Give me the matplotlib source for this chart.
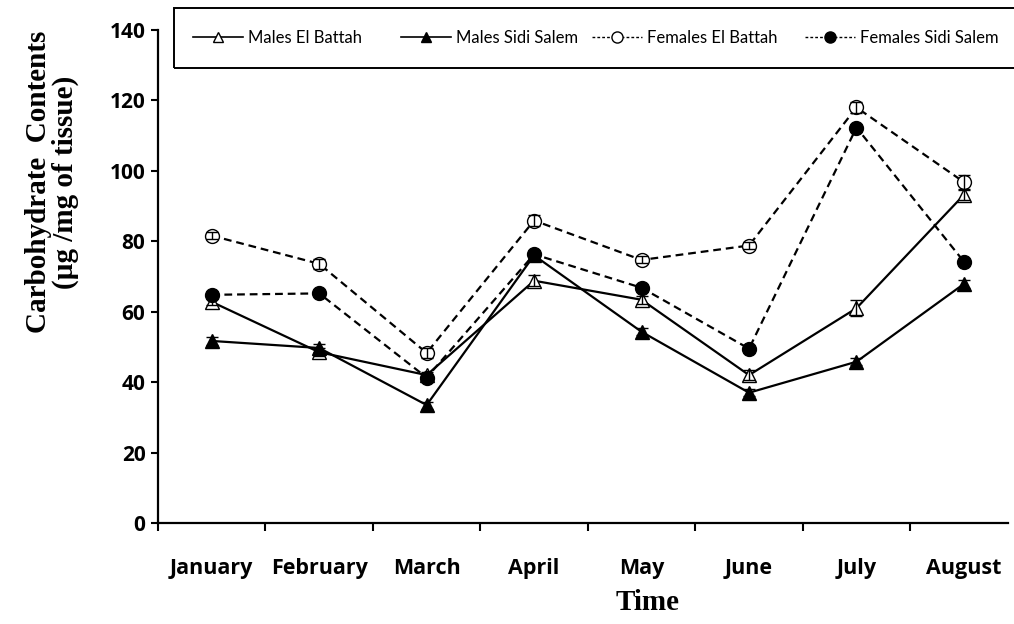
import matplotlib
matplotlib.use("Agg")
import matplotlib.pyplot as plt
import numpy as np

months = ["January", "February", "March", "April", "May", "June", "July", "August"]
males_el_battah = [62.8, 48.5, 42.0, 68.8, 63.4, 42.0, 61.0, 93.2]
males_sidi_salem = [51.7, 49.7, 33.5, 76.0, 54.3, 37.0, 45.8, 67.9]
females_el_battah = [81.6, 73.6, 48.3, 85.9, 74.7, 78.8, 118.0, 96.8]
females_sidi_salem = [64.8, 65.2, 41.3, 76.3, 66.8, 49.5, 112.3, 74.2]
err_meb = [1.0, 1.2, 1.0, 1.5, 1.2, 1.5, 2.2, 1.5]
err_mss = [1.2, 1.0, 1.0, 1.2, 1.0, 1.0, 1.0, 1.2]
err_feb = [1.0, 1.5, 1.5, 1.5, 1.0, 1.0, 1.5, 2.0]
err_fss = [0.8, 0.8, 0.8, 0.8, 0.8, 0.8, 0.8, 0.8]
labels = ["Males El Battah", "Males Sidi Salem", "Females El Battah", "Females Sidi Salem"]

fig = plt.figure(figsize=(10.14, 6.24), dpi=100)
ax = fig.add_axes([158/1014, 1-523/624, (1008-158)/1014, (523-30)/624])

x = np.arange(len(months))
series = [
    (males_el_battah, err_meb, '-', '^', 'white'),
    (males_sidi_salem, err_mss, '-', '^', 'black'),
    (females_el_battah, err_feb, '--', 'o', 'white'),
    (females_sidi_salem, err_fss, '--', 'o', 'black'),
]
handles = []
for (vals, err, ls, mk, fc), lab in zip(series, labels):
    ms = 9.5 if mk == '^' else 10
    line, = ax.plot(x, vals, color='black', ls=ls, lw=1.6, zorder=3,
                    marker=mk, markersize=ms, markerfacecolor=fc,
                    markeredgecolor='black', markeredgewidth=1.0)
    if ls == '--':
        line.set_dashes((3.5, 2.2))
    ax.errorbar(x, vals, yerr=err, fmt='none', ecolor='black',
                capsize=4, elinewidth=1.0, capthick=1.0, zorder=4)
    h, = ax.plot([], [], color='black', ls=ls, lw=1.2 if ls == '-' else 1.0,
                 marker=mk, markersize=7 if mk == '^' else 8,
                 markerfacecolor=fc, markeredgecolor='black', label=lab)
    if ls == '--':
        h.set_dashes((2, 1.5))
    handles.append(h)

ax.set_xlim(-0.5, 7.41)
ax.set_ylim(0, 140)
ax.set_yticks(np.arange(0, 141, 20))
ax.set_xticks(np.arange(-0.5, 7.0, 1.0))
ax.set_xticklabels([])
ax.set_xticks(x, minor=True)
ax.set_xticklabels(months, minor=True)
ax.tick_params(axis='x', which='major', direction='out', length=6, width=1.5)
ax.tick_params(axis='x', which='minor', length=0, pad=25)
ax.tick_params(axis='y', direction='out', length=5, width=1.5, pad=4)
for lab in ax.get_xticklabels(minor=True):
    lab.set_fontfamily('Open Sans')
    lab.set_fontweight('bold')
    lab.set_fontsize(15.5)
for lab in ax.get_yticklabels():
    lab.set_fontfamily('Open Sans')
    lab.set_fontweight('bold')
    lab.set_fontsize(15)
for s in ['top', 'right']:
    ax.spines[s].set_visible(False)
for s in ['left', 'bottom']:
    ax.spines[s].set_linewidth(1.6)

fig.text(52/1014, 1-182/624, "Carbohydrate  Contents\n(µg /mg of tissue)",
         rotation=90, ha='center', va='center', multialignment='center',
         family='Liberation Serif', fontweight='bold', fontsize=21, linespacing=0.95)
fig.text(648/1014, 1-603/624, "Time", ha='center', va='center',
         family='Liberation Serif', fontweight='bold', fontsize=21)

# legend box
rect = plt.Rectangle((174/1014, 1-68/624), 1.0, 60/624, transform=fig.transFigure,
                     fill=False, edgecolor='black', lw=1.4, clip_on=False)
fig.patches.append(rect)
xs = [193, 401, 592, 805]
for h, xp in zip(handles, xs):
    fig.legend(handles=[h], loc='center left', bbox_to_anchor=(xp/1014, 1-38/624),
               frameon=False, prop={'family': 'Lato', 'size': 12},
               handlelength=3.0, handletextpad=0.3, borderpad=0, borderaxespad=0)

fig.savefig("out.png", dpi=100)
